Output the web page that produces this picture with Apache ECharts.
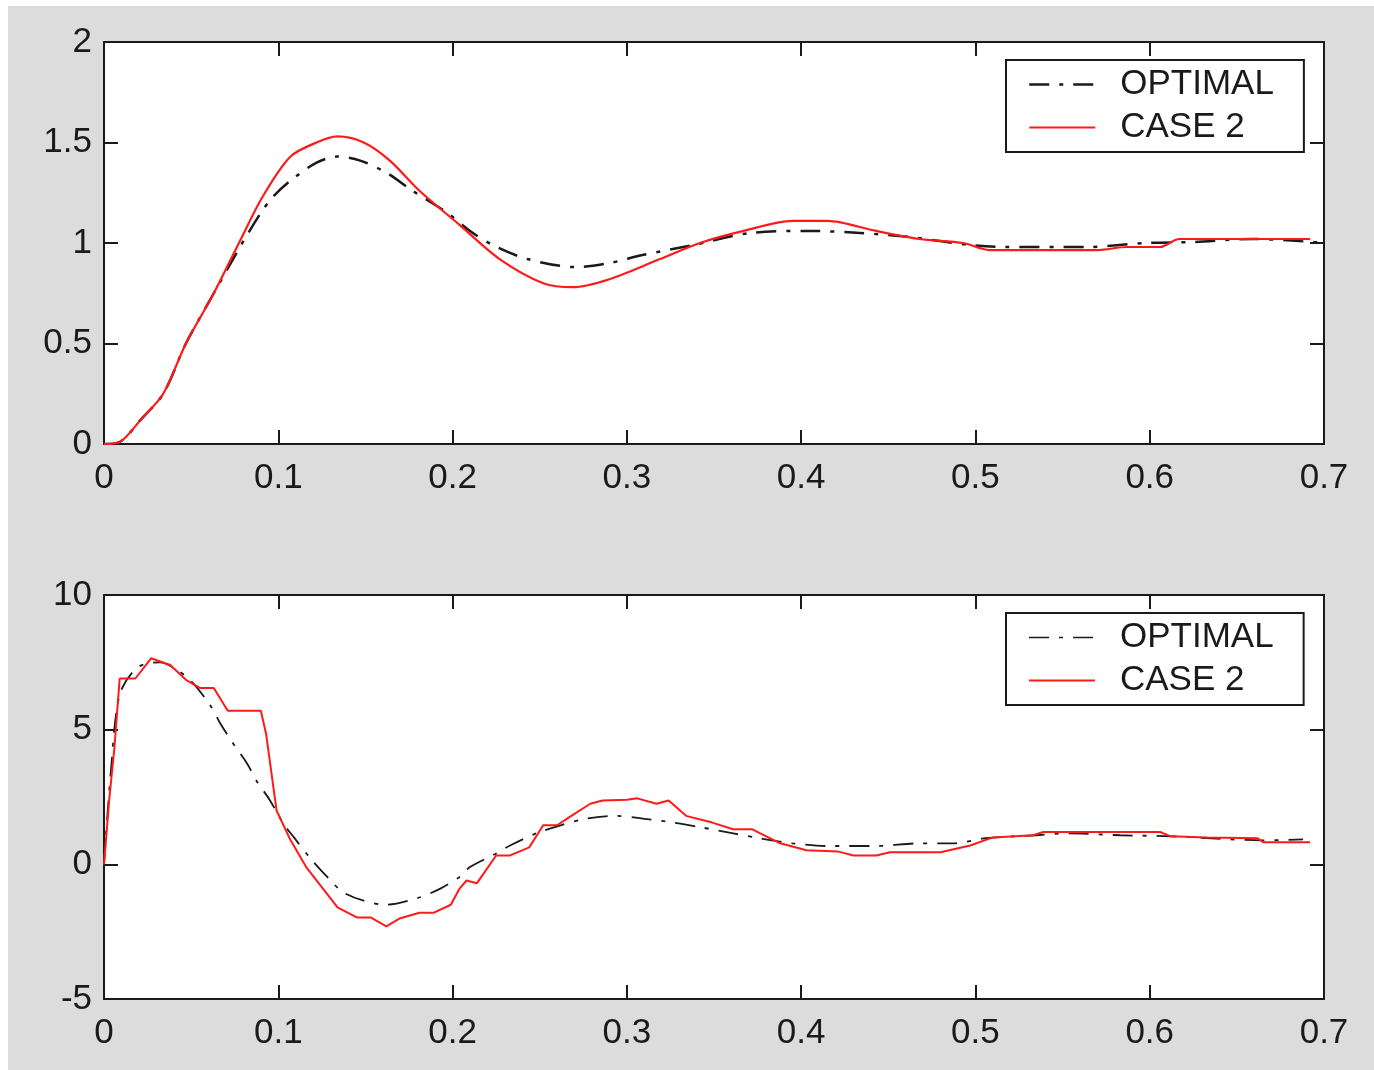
<!DOCTYPE html>
<html>
<head>
<meta charset="utf-8">
<script src="https://cdn.jsdelivr.net/npm/echarts@6/dist/echarts.min.js"></script>
<style>
	html, body { margin: 0; padding: 0; background: #fff; }
	#main { position: absolute; left: 8px; top: 6px; width: 1366px; height: 1064px; }
</style>
</head>
<body>
<div id="main"></div>
<script>
// top plot: response
var topOptT = [0, 0.009, 0.021, 0.034, 0.047, 0.063, 0.078, 0.090, 0.097, 0.107, 0.122, 0.134, 0.147, 0.162, 0.177, 0.197, 0.210, 0.223, 0.243, 0.271, 0.290, 0.309, 0.338, 0.371, 0.405, 0.434, 0.462, 0.497, 0.516, 0.564, 0.598, 0.625, 0.659, 0.694, 0.700];
var topOptV = [0, 0.01, 0.12, 0.25, 0.50, 0.75, 0.98, 1.15, 1.23, 1.31, 1.40, 1.43, 1.41, 1.35, 1.26, 1.15, 1.06, 0.99, 0.92, 0.88, 0.90, 0.94, 0.99, 1.05, 1.06, 1.05, 1.03, 0.99, 0.98, 0.98, 1.00, 1.005, 1.02, 1.005, 1.0];
var topCaseT = [0, 0.009, 0.021, 0.034, 0.047, 0.063, 0.078, 0.091, 0.107, 0.122, 0.134, 0.149, 0.164, 0.181, 0.204, 0.227, 0.252, 0.269, 0.290, 0.319, 0.342, 0.367, 0.395, 0.415, 0.443, 0.468, 0.493, 0.508, 0.570, 0.587, 0.606, 0.617, 0.692];
var topCaseV = [0, 0.01, 0.12, 0.25, 0.50, 0.75, 1.01, 1.23, 1.43, 1.50, 1.53, 1.50, 1.41, 1.26, 1.09, 0.92, 0.80, 0.78, 0.82, 0.92, 1.00, 1.06, 1.11, 1.11, 1.06, 1.02, 1.00, 0.965, 0.965, 0.98, 0.98, 1.02, 1.02];

// bottom plot: control signal
var botOptT = [0, 0.004, 0.009, 0.019, 0.032, 0.040, 0.050, 0.061, 0.067, 0.074, 0.082, 0.088, 0.095, 0.103, 0.109, 0.118, 0.130, 0.137, 0.149, 0.162, 0.180, 0.193, 0.204, 0.210, 0.225, 0.233, 0.248, 0.262, 0.277, 0.294, 0.309, 0.327, 0.342, 0.361, 0.376, 0.395, 0.415, 0.443, 0.468, 0.487, 0.506, 0.535, 0.554, 0.583, 0.613, 0.633, 0.665, 0.688];
var botOptV = [0, 3.5, 6.3, 7.3, 7.5, 7.3, 6.8, 5.9, 5.2, 4.5, 3.75, 3.05, 2.4, 1.5, 1.0, 0.25, -0.6, -1.03, -1.35, -1.5, -1.25, -0.9, -0.47, -0.1, 0.4, 0.7, 1.15, 1.45, 1.7, 1.8, 1.7, 1.55, 1.38, 1.15, 0.97, 0.78, 0.68, 0.68, 0.78, 0.78, 0.97, 1.08, 1.15, 1.08, 1.04, 0.97, 0.89, 0.93];
var botCaseT = [0, 0.003, 0.006, 0.009, 0.018, 0.027, 0.038, 0.047, 0.055, 0.063, 0.071, 0.090, 0.093, 0.099, 0.107, 0.116, 0.134, 0.145, 0.153, 0.162, 0.170, 0.181, 0.189, 0.199, 0.204, 0.208, 0.214, 0.225, 0.233, 0.244, 0.252, 0.260, 0.267, 0.279, 0.286, 0.300, 0.306, 0.317, 0.324, 0.334, 0.349, 0.361, 0.372, 0.388, 0.403, 0.421, 0.430, 0.443, 0.451, 0.480, 0.497, 0.510, 0.533, 0.539, 0.606, 0.612, 0.633, 0.662, 0.665, 0.692];
var botCaseV = [0, 2.4, 4.35, 6.9, 6.9, 7.65, 7.4, 6.85, 6.55, 6.55, 5.7, 5.7, 4.85, 2.0, 0.9, -0.1, -1.6, -1.97, -1.97, -2.3, -2.0, -1.8, -1.8, -1.5, -0.9, -0.6, -0.7, 0.33, 0.33, 0.63, 1.45, 1.45, 1.75, 2.25, 2.37, 2.4, 2.45, 2.25, 2.37, 1.8, 1.55, 1.3, 1.3, 0.78, 0.52, 0.48, 0.33, 0.33, 0.45, 0.45, 0.7, 1.0, 1.08, 1.2, 1.2, 1.04, 1.0, 0.97, 0.82, 0.82];

var FONT = "'Liberation Sans', Arial, sans-serif";
var INK = '#1a1a1a';
var RED = '#ff1a1a';
var DASHDOT = [20, 10, 4, 10];

function pairs(t, v) {
	return t.map(function(x, i) { return [x, v[i]]; });
}

function makeAxis(gridIdx, pos, min, max, interval, showLabel, margin) {
	return {
		type: 'value',
		gridIndex: gridIdx,
		position: pos,
		min: min,
		max: max,
		interval: interval,
		splitLine: { show: false },
		axisLine: { show: true, onZero: false, lineStyle: { color: INK, width: 2 } },
		axisTick: { show: true, inside: true, length: 14, lineStyle: { color: INK, width: 2 } },
		axisLabel: {
			show: showLabel,
			margin: margin,
			color: INK,
			fontFamily: FONT,
			fontSize: 35
		}
	};
}

function makeLegend(top, optWidth) {
	return {
		orient: 'vertical',
		left: 998,
		top: top,
		selectedMode: false,
		backgroundColor: '#fff',
		borderColor: INK,
		borderWidth: 2,
		borderRadius: 0,
		padding: [6, 30, 6, 22],
		itemWidth: 66,
		itemHeight: 14,
		itemGap: 6,
		itemStyle: { opacity: 0 },
		textStyle: { fontFamily: FONT, fontSize: 35, color: INK, lineHeight: 37, padding: [0, 0, 0, 20] },
		data: [
			{ name: 'OPTIMAL', lineStyle: { width: optWidth } },
			{ name: 'CASE 2' }
		]
	};
}

var chart = echarts.init(document.getElementById('main'));
chart.setOption({
	backgroundColor: '#dcdcdc',
	animation: false,
	grid: [
		{ left: 96, top: 36, width: 1220, height: 402, backgroundColor: '#fff', show: true, borderWidth: 0 },
		{ left: 96, top: 589, width: 1220, height: 404, backgroundColor: '#fff', show: true, borderWidth: 0 }
	],
	xAxis: [
		makeAxis(0, 'bottom', 0, 0.7, 0.1, true, 17),
		makeAxis(0, 'top', 0, 0.7, 0.1, false, 8),
		makeAxis(1, 'bottom', 0, 0.7, 0.1, true, 17),
		makeAxis(1, 'top', 0, 0.7, 0.1, false, 8)
	],
	yAxis: [
		makeAxis(0, 'left', 0, 2, 0.5, true, 12),
		makeAxis(0, 'right', 0, 2, 0.5, false, 8),
		makeAxis(1, 'left', -5, 10, 5, true, 12),
		makeAxis(1, 'right', -5, 10, 5, false, 8)
	],
	legend: [makeLegend(54, 2.5), makeLegend(607, 1.5)],
	series: [
		{
			name: 'OPTIMAL', type: 'line', xAxisIndex: 0, yAxisIndex: 0,
			data: pairs(topOptT, topOptV), smooth: 0.3, showSymbol: false, symbol: 'none', z: 3,
			lineStyle: { color: INK, width: 2.5, type: DASHDOT }, itemStyle: { color: INK }
		},
		{
			name: 'CASE 2', type: 'line', xAxisIndex: 0, yAxisIndex: 0,
			data: pairs(topCaseT, topCaseV), smooth: 0.3, showSymbol: false, symbol: 'none', z: 4,
			lineStyle: { color: RED, width: 2.2 }, itemStyle: { color: RED }
		},
		{
			name: 'OPTIMAL', type: 'line', xAxisIndex: 2, yAxisIndex: 2,
			data: pairs(botOptT, botOptV), smooth: 0.3, showSymbol: false, symbol: 'none', z: 3,
			lineStyle: { color: INK, width: 1.8, type: DASHDOT }, itemStyle: { color: INK }
		},
		{
			name: 'CASE 2', type: 'line', xAxisIndex: 2, yAxisIndex: 2,
			data: pairs(botCaseT, botCaseV), showSymbol: false, symbol: 'none', z: 4,
			lineStyle: { color: RED, width: 2 }, itemStyle: { color: RED }
		}
	]
});
</script>
</body>
</html>
